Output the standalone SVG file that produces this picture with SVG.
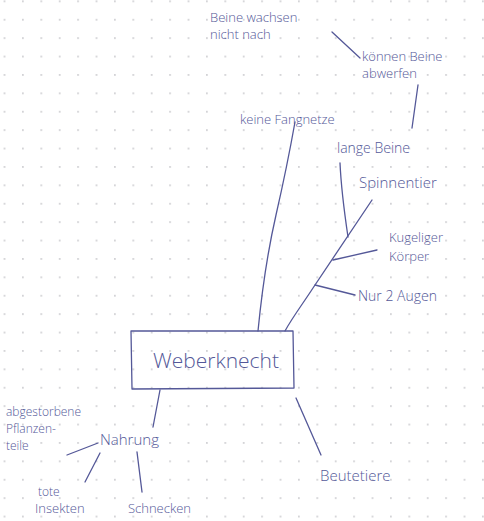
<svg xmlns="http://www.w3.org/2000/svg" width="484" height="521" viewBox="0 0 484 521">
<defs>
<pattern id="dots" x="3.6" y="0.4" width="18.4" height="18.4" patternUnits="userSpaceOnUse">
<circle cx="0.9" cy="0.9" r="0.9" fill="#c4c4c8"/>
</pattern>
<style>
.t{font-family:"Open Sans","Liberation Sans",sans-serif;font-weight:300;fill:#545898;font-size:14px}
.c{fill:none;stroke:#545898;stroke-width:1.3;stroke-linecap:round;stroke-linejoin:round}
</style>
</defs>
<rect width="484" height="521" fill="#ffffff"/>
<rect width="484" height="521" fill="url(#dots)"/>
<g id="connectors">
<path class="c" d="M258 331 C262 290 268 250 276 215 C284 180 290 150 295 122"/>
<path class="c" d="M285 331 C292 318 304 302 313 288 L372 200"/>
<path class="c" d="M348 237 C344 210 341 185 340 163"/>
<path class="c" d="M333 260 L377 250"/>
<path class="c" d="M315 285 L355 295"/>
<path class="c" d="M412 128 L418 85"/>
<path class="c" d="M332 32 L360 58"/>
<path class="c" d="M160 390 L153 427"/>
<path class="c" d="M98 443 L67 455"/>
<path class="c" d="M100 453 L85 482"/>
<path class="c" d="M137 452 L142 492"/>
<path class="c" d="M296 398 L321 455"/>
</g>
<g id="weberknecht">
<path class="c" d="M131 331 L293 331 L294 388 L132 389 Z"/>
<text class="t" x="216" y="368" text-anchor="middle" style="font-size:21px">Weberknecht</text>
</g>
<g id="keine-fangnetze"><text class="t" x="240" y="124" style="font-size:13px">keine Fangnetze</text></g>
<g id="lange-beine"><text class="t" x="337" y="153" style="font-size:14px">lange Beine</text></g>
<g id="koennen-beine"><text class="t" x="362" y="61" style="font-size:13px">können Beine</text><text class="t" x="362" y="78" style="font-size:13px">abwerfen</text></g>
<g id="beine-wachsen"><text class="t" x="210" y="22" style="font-size:13px">Beine wachsen</text><text class="t" x="210" y="39" style="font-size:13px">nicht nach</text></g>
<g id="spinnentier"><text class="t" x="359" y="188" style="font-size:15px">Spinnentier</text></g>
<g id="kugeliger-koerper"><text class="t" x="389" y="242" style="font-size:13px">Kugeliger</text><text class="t" x="389" y="261" style="font-size:13px">Körper</text></g>
<g id="nur-2-augen"><text class="t" x="358" y="301" style="font-size:14px">Nur 2 Augen</text></g>
<g id="nahrung"><text class="t" x="100" y="445" style="font-size:15px">Nahrung</text></g>
<g id="pflanzenteile"><text class="t" x="6" y="416" style="font-size:12px">abgestorbene</text><text class="t" x="6" y="433" style="font-size:12px">Pflanzen-</text><text class="t" x="6" y="450" style="font-size:12px">teile</text></g>
<g id="tote-insekten"><text class="t" x="38" y="496" style="font-size:12px">tote</text><text class="t" x="35" y="513" style="font-size:13px">Insekten</text></g>
<g id="schnecken"><text class="t" x="128" y="513" style="font-size:13px">Schnecken</text></g>
<g id="beutetiere"><text class="t" x="320" y="481" style="font-size:15px">Beutetiere</text></g>
</svg>
